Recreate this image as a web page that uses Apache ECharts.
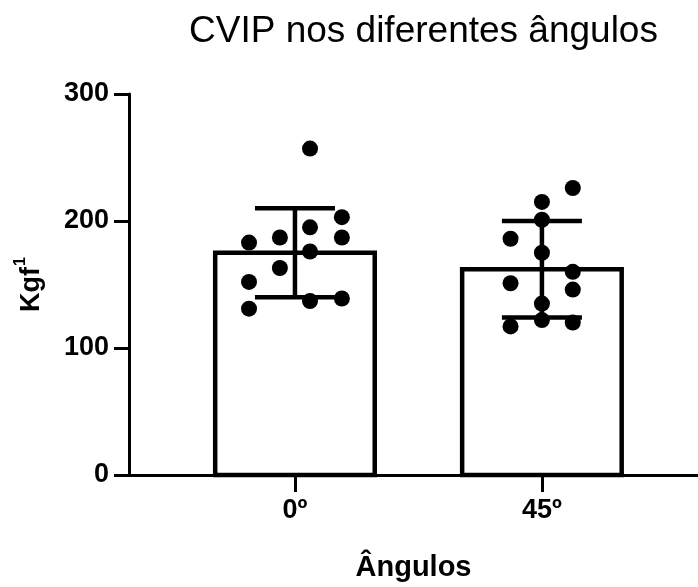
<!DOCTYPE html>
<html>
<head>
<meta charset="utf-8">
<script src="https://cdn.jsdelivr.net/npm/echarts@6/dist/echarts.min.js"></script>
<style>html,body{margin:0;padding:0;background:#fff}#c{width:698px;height:587px}</style>
</head>
<body>
<div id="c"></div>
<script>
// ---- data ----
const categories = ['0º', '45º'];
const means = [175, 162];
const sds = [35, 38];
const yTicks = [0, 100, 200, 300];
// individual points per group (Kgf)
const points0 = [257, 203, 195, 187, 187, 183, 176, 163, 152, 131, 137, 139];
const jitter0 = [0.061, 0.19, 0.061, 0.19, -0.061, -0.186, 0.061, -0.061, -0.186, -0.186, 0.061, 0.19];
const points1 = [226, 215, 201, 186, 175, 160, 151, 146, 135, 122, 120, 117];
const jitter1 = [0.125, 0, 0, -0.127, 0, 0.125, -0.127, 0.125, 0, 0, 0.125, -0.127];

// ---- build ----
const FONT = "'Liberation Sans', Arial, sans-serif";
const BAR_HALF = 0.323;
const barData = means.map((m, i) => [i, m]);
const errData = means.map((m, i) => [i, m - sds[i], m + sds[i]]);
const scatterData = [];
points0.forEach((v, k) => scatterData.push([0 + jitter0[k], v]));
points1.forEach((v, k) => scatterData.push([1 + jitter1[k], v]));

const chart = echarts.init(document.getElementById('c'), null, {renderer: 'canvas'});
chart.setOption({
  animation: false,
  backgroundColor: '#fff',
  title: {
    text: 'CVIP nos diferentes ângulos',
    left: 184, top: 8,
    textStyle: {fontFamily: FONT, fontSize: 37, fontWeight: 'normal', color: '#000'}
  },
  grid: {left: 129, right: 0, top: 94, bottom: 110, containLabel: false},
  xAxis: {
    type: 'value', min: -0.672, max: 1.632,
    name: 'Ângulos', nameLocation: 'middle', nameGap: 78,
    nameTextStyle: {fontFamily: FONT, fontSize: 29, fontWeight: 'bold', color: '#000'},
    axisLine: {show: true, onZero: false, lineStyle: {color: '#000', width: 3}},
    axisTick: {show: true, customValues: [0, 1], length: 17, lineStyle: {color: '#000', width: 3}},
    axisLabel: {
      customValues: [0, 1], margin: 22,
      formatter: v => categories[Math.round(v)] || '',
      fontFamily: FONT, fontSize: 27, fontWeight: 'bold', color: '#000'
    },
    splitLine: {show: false}
  },
  yAxis: {
    type: 'value', min: yTicks[0], max: yTicks[yTicks.length - 1], interval: 100,
    name: '{a|Kgf}{b|1}', nameLocation: 'middle', nameGap: 84, nameRotate: 90,
    nameTextStyle: {
      rich: {
        a: {fontFamily: FONT, fontSize: 27, fontWeight: 'bold', color: '#000', lineHeight: 32, verticalAlign: 'bottom'},
        b: {fontFamily: FONT, fontSize: 16, fontWeight: 'bold', color: '#000', lineHeight: 16, verticalAlign: 'top', padding: [0, 0, 0, 1]}
      }
    },
    axisLine: {show: true, onZero: false, lineStyle: {color: '#000', width: 3}},
    axisTick: {show: true, length: 15, lineStyle: {color: '#000', width: 3}},
    axisLabel: {margin: 20, fontFamily: FONT, fontSize: 27, fontWeight: 'bold', color: '#000'},
    splitLine: {show: false}
  },
  series: [
    {
      type: 'custom', z: 1,
      data: barData,
      encode: {x: 0, y: 1},
      renderItem: (params, api) => {
        const x = api.value(0), y = api.value(1);
        const p1 = api.coord([x - BAR_HALF, y]);
        const p2 = api.coord([x + BAR_HALF, 0]);
        return {type: 'rect', shape: {x: p1[0], y: p1[1], width: p2[0] - p1[0], height: p2[1] - p1[1]},
          style: {fill: '#fff', stroke: '#000', lineWidth: 4.5}};
      }
    },
    {
      type: 'custom', z: 2,
      data: errData,
      encode: {x: 0, y: [1, 2]},
      renderItem: (params, api) => {
        const x = api.value(0);
        const lo = api.coord([x, api.value(1)]);
        const hi = api.coord([x, api.value(2)]);
        const cap = 40;
        const st = {stroke: '#000', lineWidth: 4.5};
        return {type: 'group', children: [
          {type: 'line', shape: {x1: lo[0], y1: lo[1], x2: hi[0], y2: hi[1]}, style: st},
          {type: 'line', shape: {x1: hi[0] - cap, y1: hi[1], x2: hi[0] + cap, y2: hi[1]}, style: st},
          {type: 'line', shape: {x1: lo[0] - cap, y1: lo[1], x2: lo[0] + cap, y2: lo[1]}, style: st}
        ]};
      }
    },
    {
      type: 'scatter', z: 3,
      data: scatterData,
      symbol: 'circle', symbolSize: 16,
      itemStyle: {color: '#000', opacity: 1}
    }
  ]
});
</script>
</body>
</html>
